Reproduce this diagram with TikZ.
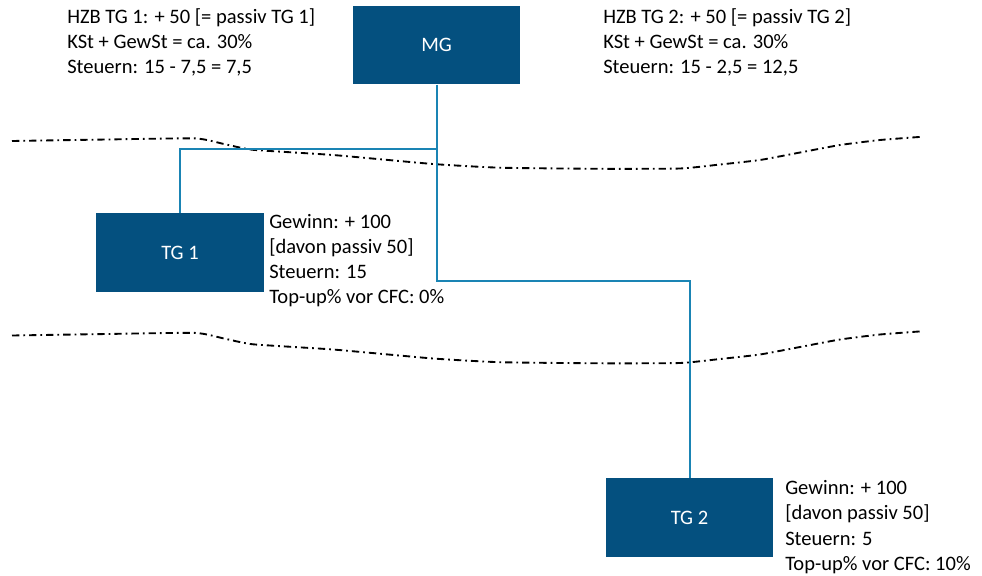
\documentclass[tikz,border=0pt]{standalone}
\usepackage{fontspec}
\setmainfont{Carlito}
\definecolor{boxblue}{RGB}{4,80,127}
\definecolor{linkblue}{RGB}{26,132,180}
\newcommand{\firstline}{\rule{0pt}{12.5pt}}
\tikzset{
  entity/.style={draw=none, fill=boxblue, text=white, minimum width=125.5pt, minimum height=59pt, inner sep=0pt, font=\fontsize{15.4}{18.75}\selectfont},
  link/.style={draw=linkblue, line width=1.5pt},
  border/.style={line width=1.4pt, black, dash pattern=on 5.5pt off 3pt on 1.3pt off 3pt},
  info/.style={anchor=north west, align=left, inner sep=0pt, font=\fontsize{15.4}{18.75}\selectfont}
}
\begin{document}
\begin{tikzpicture}[x=0.75pt, y=-0.75pt]
\useasboundingbox (0,0) rectangle (982,575);
% borders
\draw[border] plot[smooth, tension=0.3] coordinates {(12,141) (100,139.6) (195,138.4) (224,144) (253,149.8) (333,155) (433,164) (500,167.7) (600,168.8) (680,168.5) (720,164.5) (760,160) (800,152.5) (840,145) (880,140) (923,136.7)};
\draw[border, shift={(0,194.5)}] plot[smooth, tension=0.3] coordinates {(12,141) (100,139.6) (195,138.4) (224,144) (253,149.8) (333,155) (433,164) (500,167.7) (600,168.8) (680,168.5) (720,164.5) (760,160) (800,152.5) (840,145) (880,140) (923,136.7)};
% entities
\node[entity] (MG) at (436.5,45) {MG};
\node[entity] (TG1) at (180,252.5) {TG 1};
\node[entity] (TG2) at (689.5,517.5) {TG 2};
% connectors
\coordinate (k1) at (436.5,149);
\coordinate (k2) at (436.5,281);
\draw[link] (MG.south) -- (k1) -| (TG1.north);
\draw[link] (k1) -- (k2) -| (TG2.north);
% texts
\node[info] (t1) at (67,6.3) {\firstline HZB TG 1: + 50 [= passiv TG 1]\\KSt + GewSt = ca. 30\%\\Steuern: 15 - 7,5 = 7,5};
\node[info] (t2) at (603,6.3) {\firstline HZB TG 2: + 50 [= passiv TG 2]\\KSt + GewSt = ca. 30\%\\Steuern: 15 - 2,5 = 12,5};
\node[info] (t3) at (269,211.6) {\firstline Gewinn: + 100\\{[davon passiv 50]}\\Steuern: 15\\Top-up\% vor CFC: 0\%};
\node[info, font=\fontsize{15.4}{19}\selectfont] (t4) at (785,477.5) {\firstline Gewinn: + 100\\{[davon passiv 50]}\\Steuern: 5\\Top-up\% vor CFC: 10\%};
\end{tikzpicture}
\end{document}
